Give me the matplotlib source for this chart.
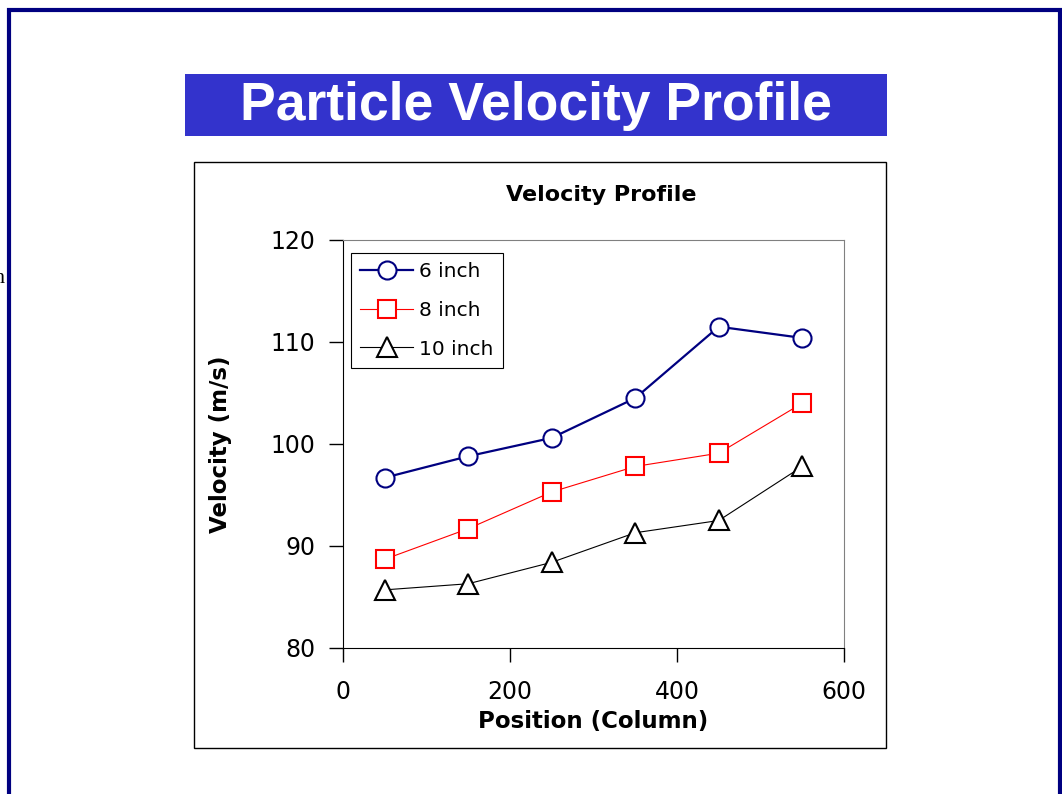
import matplotlib
matplotlib.use("Agg")
import matplotlib.pyplot as plt
from matplotlib.patches import Rectangle

# data
positions = [50, 150, 250, 350, 450, 550]
v_6inch = [96.7, 98.8, 100.6, 104.5, 111.5, 110.4]
v_8inch = [88.7, 91.7, 95.3, 97.8, 99.1, 104.0]
v_10inch = [85.7, 86.3, 88.4, 91.3, 92.5, 97.8]
series_labels = ["6 inch", "8 inch", "10 inch"]
x_ticks = [0, 200, 400, 600]
y_ticks = [80, 90, 100, 110, 120]

W, H = 1062, 794
# chart texts are letter-spaced in the original, DejaVu is wider than Arial so it is closer
plt.rcParams['font.family'] = ['DejaVu Sans']

fig = plt.figure(figsize=(W / 100, H / 100), dpi=100)

def fx(px):
    return px / W

def fy(py):
    return 1 - py / H

# slide border (navy)
fig.add_artist(Rectangle((fx(9), fy(800)), fx(1051), 790 / H, transform=fig.transFigure,
                         fill=False, edgecolor='#000080', linewidth=3))

# title banner
fig.add_artist(Rectangle((fx(185), fy(136)), fx(702), 62 / H, transform=fig.transFigure,
                         facecolor='#3333CC', edgecolor='none'))
fig.text(fx(536), fy(120), "Particle Velocity Profile", color='white', fontsize=38.5,
         fontweight='bold', ha='center', va='baseline', family='Liberation Sans')

# clipped fragment at left edge
fig.text(fx(5), fy(283), "n", ha='right', va='baseline', fontsize=16,
         family='Liberation Serif')

# chart frame
fig.add_artist(Rectangle((fx(194), fy(748)), fx(692), 586 / H, transform=fig.transFigure,
                         fill=False, edgecolor='black', linewidth=1))

ax = fig.add_axes([fx(343), fy(648), fx(501), 408 / H])
ax.plot(positions, v_6inch, color='#000080', linewidth=1.6, marker='o', markersize=13,
        markerfacecolor='white', markeredgecolor='#000080', markeredgewidth=1.5,
        label=series_labels[0])
ax.plot(positions, v_8inch, color='#FF0000', linewidth=0.8, marker='s', markersize=13.5,
        markerfacecolor='white', markeredgecolor='#FF0000', markeredgewidth=1.5,
        label=series_labels[1])
ax.plot(positions, v_10inch, color='black', linewidth=0.8, marker='^', markersize=14,
        markerfacecolor='white', markeredgecolor='black', markeredgewidth=1.5,
        label=series_labels[2])

ax.set_xlim(0, 600)
ax.set_ylim(80, 120)
ax.set_xticks(x_ticks)
ax.set_yticks(y_ticks)
ax.tick_params(axis='both', direction='out', length=10, width=1, labelsize=17)
ax.tick_params(axis='y', pad=10)
ax.tick_params(axis='x', pad=13)
ax.spines['top'].set_color('#808080')
ax.spines['right'].set_color('#808080')
ax.spines['left'].set_color('black')
ax.spines['bottom'].set_color('black')

ax.set_xlabel("Position (Column)", fontsize=16.5, fontweight='bold')
ax.set_ylabel("Velocity (m/s)", fontsize=16.5, fontweight='bold')
ax.xaxis.set_label_coords(0.5, -0.151)
ax.yaxis.set_label_coords(-0.221, 0.5)
fig.text(fx(601), fy(201), "Velocity Profile", fontsize=16, fontweight='bold',
         ha='center', va='baseline')

leg = ax.legend(loc='upper left', bbox_to_anchor=(fx(351), fy(253)),
                bbox_transform=fig.transFigure, borderaxespad=0, fancybox=False,
                edgecolor='black', framealpha=1, fontsize=14.5, handlelength=2.64,
                handletextpad=0.3, labelspacing=0.98, borderpad=0.45)
leg.get_frame().set_linewidth(0.8)

fig.savefig("out.png", dpi=100)
